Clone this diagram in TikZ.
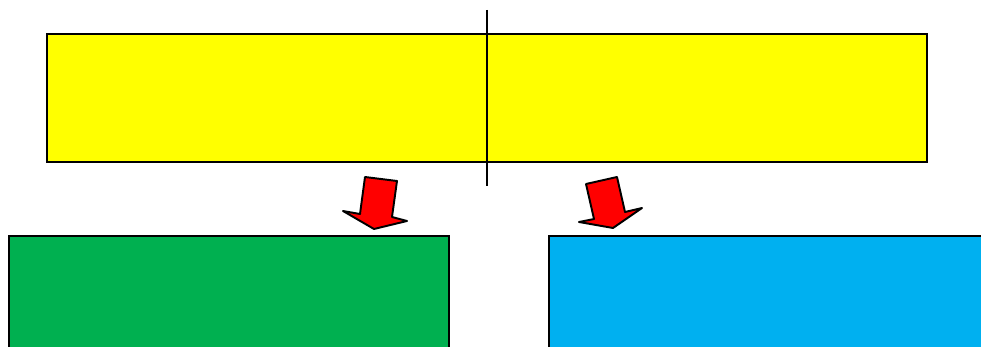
\documentclass[tikz,border=0pt]{standalone}
\usepackage{tikz}
\usetikzlibrary{arrows.meta, positioning, calc}
\usepackage[dvipsnames, svgnames, table]{xcolor}
\definecolor{boxyellow}{HTML}{FFFF00}
\definecolor{boxgreen}{HTML}{00B050}
\definecolor{boxblue}{HTML}{00B0F0}

\begin{document}
\begin{tikzpicture}[x=0.02cm, y=-0.02cm, line width=1.1pt,
    blockarrow/.style={fill=red, draw=black, line join=round}]
    \useasboundingbox (0, 0) rectangle (981, 347);
    \clip (0, 0) rectangle (981, 347);

    % Top box split by a line
    \draw[fill=boxyellow] (47, 34) rectangle (927, 162);
    \draw (487, 10) -- (487, 186);

    % Bottom boxes, running off the page
    \draw[fill=boxgreen] (9, 236) rectangle (449, 380);
    \draw[fill=boxblue] (549, 236) rectangle (1020, 380);

    % Left block arrow
    \draw[blockarrow] (365, 177) -- (397, 181) -- (392, 217) -- (407, 221)
        -- (374, 229) -- (343, 211) -- (360, 214) -- cycle;

    % Right block arrow
    \draw[blockarrow] (586, 184) -- (617, 177) -- (625, 212) -- (642, 208)
        -- (613, 228) -- (579, 222) -- (594, 219) -- cycle;
\end{tikzpicture}
\end{document}
